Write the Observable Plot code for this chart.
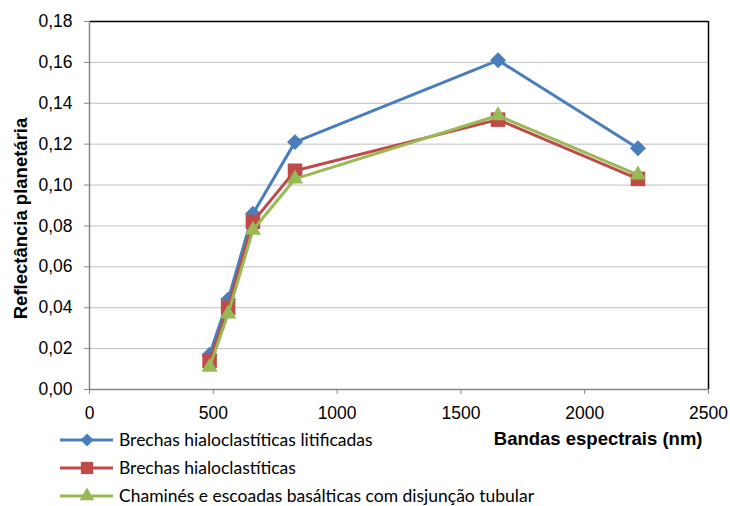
<!DOCTYPE html>
<html>
<head>
<meta charset="utf-8">
<script src="https://cdn.jsdelivr.net/npm/d3@7"></script>
<script src="https://cdn.jsdelivr.net/npm/@observablehq/plot@0.6"></script>
<style>
  body { margin: 0; background: #fff; }
  #wrap { position: relative; width: 730px; height: 506px; overflow: hidden; }
  #legend { position: absolute; left: 60px; top: 426px; font-family: Lato, "Open Sans", sans-serif; font-size: 17.5px; line-height: 1; color: #000; }
  .item { display: flex; align-items: center; height: 28px; white-space: nowrap; }
  .item svg { margin-right: 5px; display: block; }
</style>
</head>
<body>
<div id="wrap"></div>
<script>
const bands = [485, 560, 660, 830, 1650, 2215];
const brechasLitificadas = [0.017, 0.044, 0.086, 0.121, 0.161, 0.118];
const brechas = [0.014, 0.040, 0.082, 0.107, 0.132, 0.103];
const chamines = [0.011, 0.037, 0.078, 0.103, 0.134, 0.105];
const seriesNames = [
  "Brechas hialoclastíticas litificadas",
  "Brechas hialoclastíticas",
  "Chaminés e escoadas basálticas com disjunção tubular"
];
const seriesValues = [brechasLitificadas, brechas, chamines];
const seriesColors = ["#4A7EBB", "#BE4B48", "#98B954"];
const seriesSymbols = ["diamond2", "square", "triangle"];
const xTicks = [0, 500, 1000, 1500, 2000, 2500];
const yTicks = [0, 0.02, 0.04, 0.06, 0.08, 0.10, 0.12, 0.14, 0.16, 0.18];
const yLabel = "Reflectância planetária";
const xLabel = "Bandas espectrais (nm)";

const FONT = "'Liberation Sans', Arial, sans-serif";
const fmt = d => d.toFixed(2).replace(".", ",");

const marks = [
  Plot.gridY(yTicks, {stroke: "#bfbfbf", strokeOpacity: 1, strokeWidth: 1}),
  Plot.ruleY([0.18], {stroke: "#000", strokeWidth: 1.5}),
  Plot.ruleX([2500], {stroke: "#000", strokeWidth: 1.5}),
  Plot.ruleX([0], {stroke: "#868686", strokeWidth: 1.5}),
  Plot.ruleY([0], {stroke: "#868686", strokeWidth: 1.5}),
  Plot.axisY(yTicks, {tickFormat: fmt, tickSize: 5, tickPadding: 12, stroke: "#868686", fontSize: 17.5, fontFamily: FONT, fill: "#000", label: null}),
  Plot.axisX(xTicks, {tickFormat: d => String(d), tickSize: 5, tickPadding: 12, stroke: "#868686", fontSize: 17.5, fontFamily: FONT, fill: "#000", label: null}),
  Plot.text([yLabel], {frameAnchor: "left", textAnchor: "middle", rotate: -90, dx: -68, dy: 13, fontWeight: "bold", fontSize: 18.5, fontFamily: FONT, fill: "#000"}),
  Plot.text([xLabel], {frameAnchor: "bottom-right", dx: -6, dy: 55, fontWeight: "bold", fontSize: 18.5, fontFamily: FONT, fill: "#000"})
];

const dotR = [7.2, 8.2, 6];
seriesValues.forEach((vals, i) => {
  const data = bands.map((b, j) => ({x: b, y: vals[j]}));
  marks.push(Plot.line(data, {x: "x", y: "y", stroke: seriesColors[i], strokeWidth: 3}));
  marks.push(Plot.dot(data, {x: "x", y: "y", symbol: () => seriesSymbols[i], fill: seriesColors[i], stroke: "none", r: dotR[i]}));
});

const chart = Plot.plot({
  width: 730,
  height: 506,
  marginLeft: 89,
  marginRight: 22,
  marginTop: 21,
  marginBottom: 117,
  style: {fontFamily: FONT, color: "#000", background: "#fff"},
  x: {domain: [0, 2500]},
  y: {domain: [0, 0.18]},
  symbol: {type: "identity"},
  marks
});
document.getElementById("wrap").appendChild(chart);

const legend = document.createElement("div");
legend.id = "legend";
const symMap = {diamond2: d3.symbolDiamond2, square: d3.symbolSquare, triangle: d3.symbolTriangle};
const symSize = {diamond2: 110, square: 150, triangle: 95};
seriesNames.forEach((name, i) => {
  const item = document.createElement("div");
  item.className = "item";
  const svg = d3.create("svg").attr("width", 54).attr("height", 18);
  svg.append("line").attr("x1", 0).attr("x2", 53).attr("y1", 9).attr("y2", 9).attr("stroke", seriesColors[i]).attr("stroke-width", 3);
  svg.append("path").attr("transform", "translate(27,9)").attr("d", d3.symbol(symMap[seriesSymbols[i]], symSize[seriesSymbols[i]])()).attr("fill", seriesColors[i]);
  item.appendChild(svg.node());
  const span = document.createElement("span");
  span.textContent = name;
  item.appendChild(span);
  legend.appendChild(item);
});
document.getElementById("wrap").appendChild(legend);
</script>
</body>
</html>
